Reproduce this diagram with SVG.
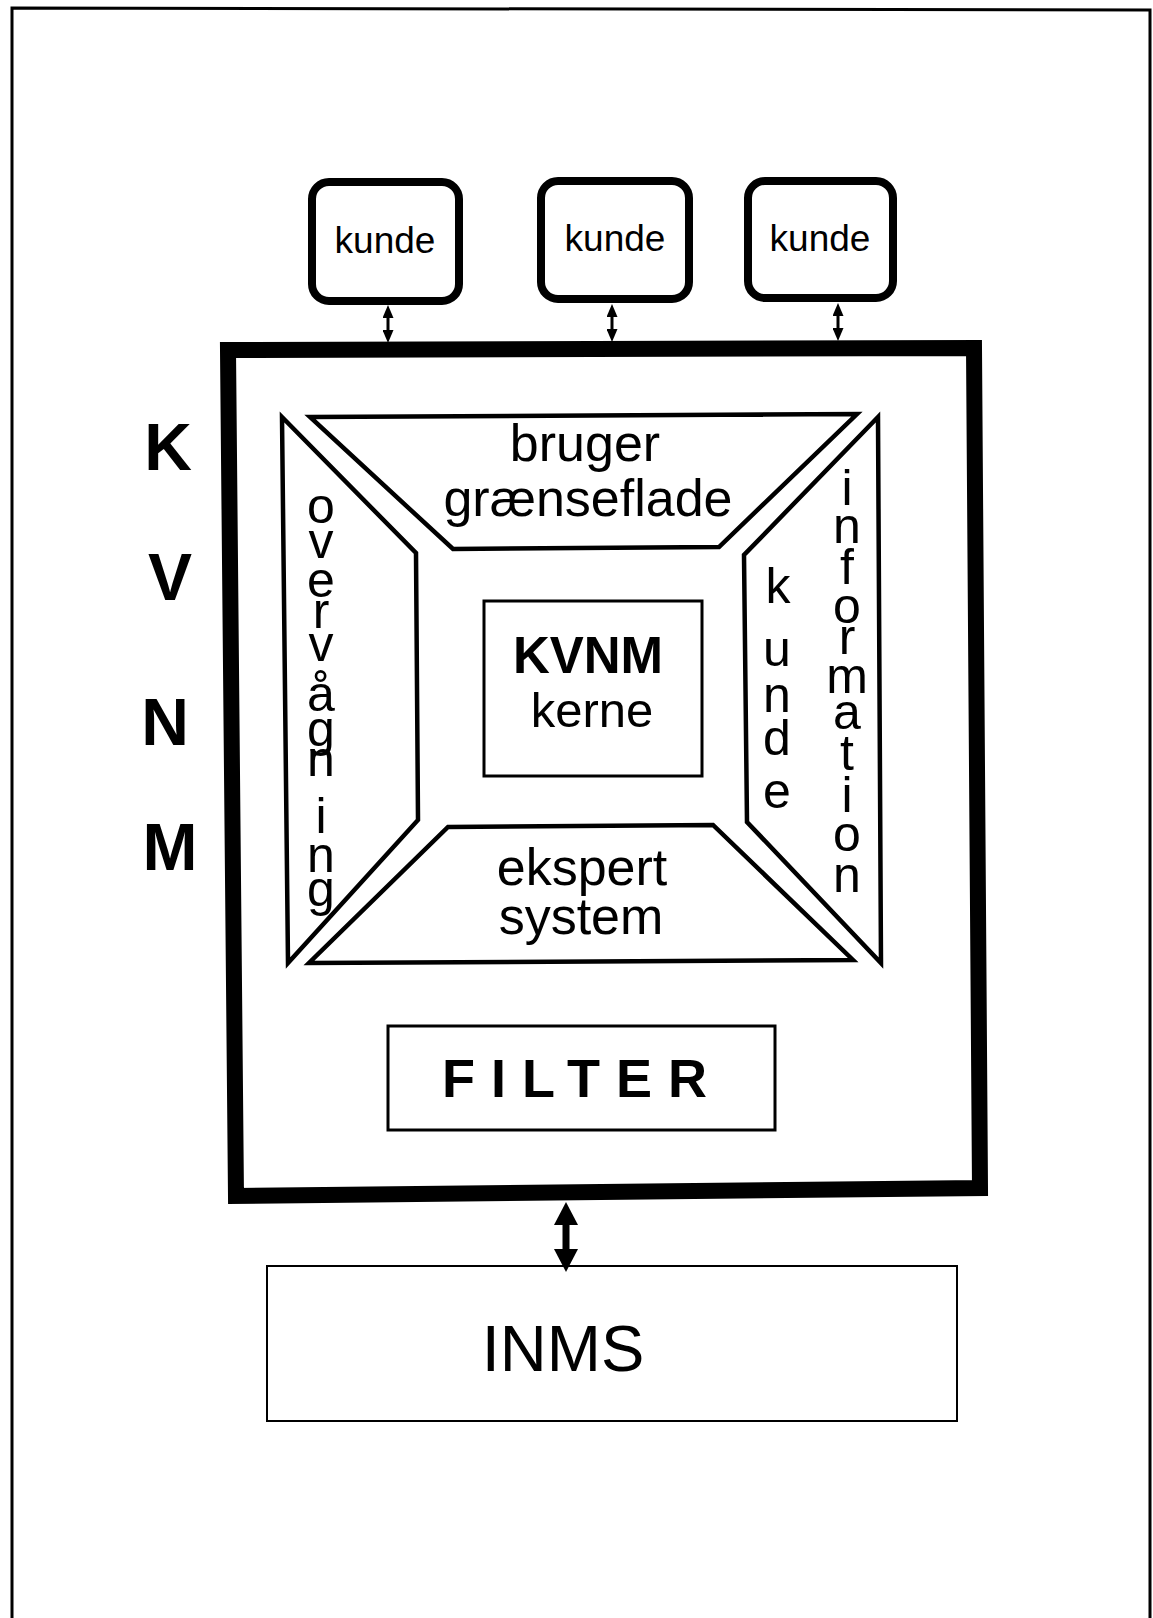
<svg xmlns="http://www.w3.org/2000/svg" width="1153" height="1618" viewBox="0 0 1153 1618">
<defs>
<style>
text{font-family:"Liberation Sans",Arial,Helvetica,sans-serif;fill:#000}
.kunde-box{fill:#fff;stroke:#000;stroke-width:8}
.trap{fill:#fff;stroke:#000;stroke-width:4.5;stroke-linejoin:miter}
.thin{fill:#fff;stroke:#000;stroke-width:3}
.lbl{font-size:52px;text-anchor:middle}
.vert{font-size:50px;text-anchor:middle}
.side{font-size:66px;font-weight:bold;text-anchor:middle}
.conn-s{stroke:#000;stroke-width:3;fill:none}
.conn-b{stroke:#000;stroke-width:7;fill:none}
</style>
<marker id="ah-s" markerUnits="userSpaceOnUse" markerWidth="13" markerHeight="11" viewBox="0 0 13 11" refX="0" refY="5.5" orient="auto-start-reverse"><path d="M0,0 L13,5.5 L0,11 z" fill="#000"/></marker>
<marker id="ah-b" markerUnits="userSpaceOnUse" markerWidth="23" markerHeight="24" viewBox="0 0 23 24" refX="0" refY="12" orient="auto-start-reverse"><path d="M0,0 L23,12 L0,24 z" fill="#000"/></marker>
</defs>
<rect width="1153" height="1618" fill="#fff"/>

<g id="page-border">
<path d="M12,1618 L12,8 L1150,10 L1150,1618" fill="none" stroke="#000" stroke-width="3"/>
</g>

<g id="kunde-1">
<rect class="kunde-box" x="312" y="182" width="147" height="119" rx="17"/>
<text x="385" y="253" font-size="37" text-anchor="middle">kunde</text>
</g>
<g id="kunde-2">
<rect class="kunde-box" x="541" y="181" width="148" height="118" rx="17"/>
<text x="615" y="251" font-size="37" text-anchor="middle">kunde</text>
</g>
<g id="kunde-3">
<rect class="kunde-box" x="748" y="181" width="145" height="117" rx="17"/>
<text x="820" y="251" font-size="37" text-anchor="middle">kunde</text>
</g>

<g id="kvnm-label">
<text class="side" x="168" y="470">K</text>
<text class="side" x="170" y="600">V</text>
<text class="side" x="165" y="745">N</text>
<text class="side" x="170" y="870">M</text>
</g>

<g id="kvnm-system">
<polygon points="228,350 974,348 980,1188 236,1196" fill="#fff" stroke="#000" stroke-width="16" stroke-linejoin="miter"/>
</g>

<g id="bruger-graenseflade">
<polygon class="trap" points="310,417 857,414 719,547 453,549"/>
<text class="lbl" x="585" y="461">bruger</text>
<text class="lbl" x="588" y="516">grænseflade</text>
</g>

<g id="overvaagning">
<polygon class="trap" points="282,417 416,553 418,820 288,963"/>
<text class="vert"><tspan x="321" y="523">o</tspan><tspan x="321" y="558">v</tspan><tspan x="321" y="597">e</tspan><tspan x="321" y="628">r</tspan><tspan x="321" y="661">v</tspan><tspan x="321" y="711">å</tspan><tspan x="321" y="746">g</tspan><tspan x="321" y="776">n</tspan><tspan x="321" y="833">i</tspan><tspan x="321" y="872">n</tspan><tspan x="321" y="906">g</tspan></text>
</g>

<g id="kunde-information">
<polygon class="trap" points="878,417 744,555 747,822 881,963"/>
<text class="vert"><tspan x="778" y="603">k</tspan><tspan x="777" y="666">u</tspan><tspan x="777" y="712">n</tspan><tspan x="777" y="755">d</tspan><tspan x="777" y="808">e</tspan></text>
<text class="vert"><tspan x="847" y="505">i</tspan><tspan x="847" y="543">n</tspan><tspan x="847" y="584">f</tspan><tspan x="847" y="623">o</tspan><tspan x="847" y="654">r</tspan><tspan x="847" y="693">m</tspan><tspan x="847" y="729">a</tspan><tspan x="847" y="770">t</tspan><tspan x="847" y="812">i</tspan><tspan x="847" y="851">o</tspan><tspan x="847" y="892">n</tspan></text>
</g>

<g id="ekspert-system">
<polygon class="trap" points="448,827 713,825 853,960 309,963"/>
<text class="lbl" x="582" y="885">ekspert</text>
<text class="lbl" x="581" y="934">system</text>
</g>

<g id="kvnm-kerne">
<rect class="thin" x="484" y="601" width="218" height="175"/>
<text x="588" y="673" font-size="51" font-weight="bold" text-anchor="middle">KVNM</text>
<text x="592" y="727" font-size="49" text-anchor="middle">kerne</text>
</g>

<g id="filter">
<rect class="thin" x="388" y="1026" width="387" height="104"/>
<text x="442" y="1097" font-size="54" font-weight="bold" letter-spacing="16">FILTER</text>
</g>

<g id="inms">
<rect x="267" y="1266" width="690" height="155" fill="#fff" stroke="#000" stroke-width="2"/>
<text x="563" y="1371" font-size="65" text-anchor="middle">INMS</text>
</g>

<g id="connectors">
<line class="conn-s" x1="388" y1="318" x2="388" y2="330" marker-start="url(#ah-s)" marker-end="url(#ah-s)"/>
<line class="conn-s" x1="612" y1="317" x2="612" y2="329" marker-start="url(#ah-s)" marker-end="url(#ah-s)"/>
<line class="conn-s" x1="838" y1="316" x2="838" y2="328" marker-start="url(#ah-s)" marker-end="url(#ah-s)"/>
<line class="conn-b" x1="566" y1="1225" x2="566" y2="1249" marker-start="url(#ah-b)" marker-end="url(#ah-b)"/>
</g>
</svg>
